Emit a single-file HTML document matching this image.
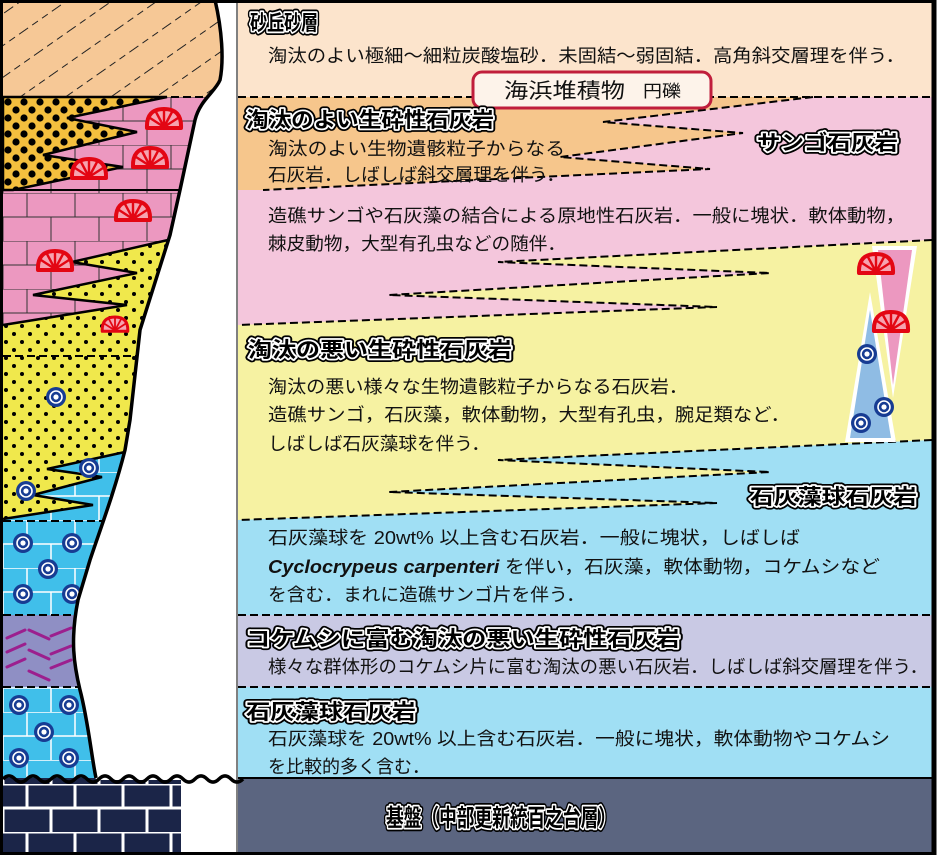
<!DOCTYPE html>
<html><head><meta charset="utf-8"><style>
html,body{margin:0;padding:0;background:#fff;}
svg{display:block;}
.b{font-family:"Liberation Sans","Noto Sans CJK JP",sans-serif;font-size:18px;fill:#111;}
.h{font-family:"Liberation Sans","Noto Sans CJK JP",sans-serif;font-size:21px;font-weight:bold;}
</style></head><body>
<svg width="937" height="855" viewBox="0 0 937 855" xmlns="http://www.w3.org/2000/svg">
<defs>
<pattern id="dotO" width="16" height="16" patternUnits="userSpaceOnUse" x="4" y="2">
 <rect width="16" height="16" fill="#f4bf3e"/>
 <circle cx="4" cy="4" r="3.6" fill="#000"/><circle cx="12" cy="12" r="3.6" fill="#000"/>
</pattern>
<pattern id="dotY" width="16" height="16" patternUnits="userSpaceOnUse" x="2" y="2">
 <rect width="16" height="16" fill="#f0e84c"/>
 <circle cx="4" cy="4" r="2" fill="#000"/><circle cx="12" cy="12" r="2" fill="#000"/>
</pattern>
<pattern id="brickP" width="48" height="48" patternUnits="userSpaceOnUse" x="3" y="97">
 <rect width="48" height="48" fill="#ec98c0"/>
 <path d="M0,0H48M0,24H48M24,0V24M0,24V48M48,24V48" stroke="#333" stroke-width="1" fill="none"/>
</pattern>
<pattern id="brickB" width="48" height="48" patternUnits="userSpaceOnUse" x="3" y="520">
 <rect width="48" height="48" fill="#40bfea"/>
 <path d="M0,0H48M0,24H48M24,0V24M0,24V48M48,24V48" stroke="#fff" stroke-width="1.5" fill="none"/>
</pattern>
<pattern id="brickN" width="48" height="48" patternUnits="userSpaceOnUse" x="3" y="784">
 <rect width="48" height="48" fill="#1b2548"/>
 <path d="M0,0H48M0,24H48M24,0V24M0,24V48M48,24V48" stroke="#fff" stroke-width="3" fill="none"/>
</pattern>
<pattern id="sandP" width="40" height="26" patternUnits="userSpaceOnUse" patternTransform="rotate(-35)">
 <rect width="40" height="26" fill="#f6c896"/>
 <line x1="0" y1="13" x2="40" y2="13" stroke="#222" stroke-width="1" stroke-dasharray="7 5"/>
</pattern>
<g id="coral">
 <path d="M-17,7 Q-18,-12 0,-12 Q18,-12 17,7 Z" fill="#f6a3b0" stroke="#e30613" stroke-width="4" stroke-linejoin="round"/>
 <path d="M0,6 L0,-11 M0,6 L-8,-9 M0,6 L8,-9 M0,6 L-14,-3 M0,6 L14,-3" stroke="#e30613" stroke-width="2.4"/>
</g>
<g id="ooid">
 <circle r="10" fill="#173c93"/><circle r="6" fill="none" stroke="#fff" stroke-width="1.6"/><circle r="2.6" fill="#fff"/>
</g>
</defs>

<rect x="238" y="0" width="696" height="97" fill="#fce4cc"/>
<rect x="238" y="97" width="696" height="430" fill="#f4c6dc"/>
<polygon points="238,97 813,97 603,122 743,133 560,157 710,169 263,190 238,190" fill="#f6c68c"/>
<polygon points="932,240 498,262 770,273 389,295 717,307 238,325 238,520 717,503 389,492 770,472 498,460 932,440" fill="#f6f2a2"/>
<rect x="238" y="520" width="696" height="95" fill="#a0dff4"/>
<polygon points="932,440 498,460 770,472 389,492 717,503 238,520 932,520" fill="#a0dff4"/>
<rect x="238" y="615" width="696" height="72" fill="#c9c9e4"/>
<rect x="238" y="687" width="696" height="91" fill="#a0dff4"/>
<rect x="238" y="778" width="696" height="77" fill="#5b6580"/>
<line x1="238" y1="778" x2="934" y2="778" stroke="#000" stroke-width="2"/>

<g fill="none" stroke="#000" stroke-width="2" stroke-dasharray="8 4">
 <line x1="238" y1="97" x2="934" y2="97"/>
 <polyline points="813,97 603,122 743,133 560,157 710,169 263,190"/>
 <polyline points="932,240 498,262 770,273 389,295 717,307 238,325"/>
 <polyline points="932,440 498,460 770,472 389,492 717,503 238,520"/>
 <line x1="238" y1="615" x2="934" y2="615"/>
 <line x1="238" y1="687" x2="934" y2="687"/>
</g>

<polygon points="872,246 917,246 893,398" fill="#fff"/>
<polygon points="878,250 912,250 893,385" fill="#ec98c0"/>
<polygon points="870,292 845,442 896,442" fill="#fff"/>
<polygon points="870,310 850,438 891,438" fill="#8fbce4"/>
<use href="#coral" x="876" y="266"/>
<use href="#coral" x="891" y="324"/>
<use href="#ooid" x="867" y="354"/>
<use href="#ooid" x="884" y="407"/>
<use href="#ooid" x="861" y="423"/>

<rect x="473" y="72" width="238" height="36" rx="9" fill="#fdf3ea" stroke="#c01e3c" stroke-width="3"/>
<text x="504" y="98" class="b" style="font-size:21px" textLength="121" lengthAdjust="spacingAndGlyphs">海浜堆積物</text>
<text x="643" y="97" class="b" style="font-size:17px" textLength="38" lengthAdjust="spacingAndGlyphs">円礫</text>

<rect x="3" y="0" width="235" height="97" fill="url(#sandP)"/>
<rect x="3" y="97" width="235" height="423" fill="url(#brickP)"/>
<polygon points="3,97 167,97 67,118 137,132 43,155 123,167 13,190 3,190" fill="url(#dotO)" stroke="#000" stroke-width="2.5"/>
<polygon points="238,238 168,240 72,262 137,273 33,295 127,305 3,325 3,520 238,520" fill="url(#dotY)"/>
<polyline points="168,240 72,262 137,273 33,295 127,305 3,325" fill="none" stroke="#000" stroke-width="2.5"/>
<line x1="3" y1="190" x2="238" y2="190" stroke="#000" stroke-width="2"/>
<polygon points="238,450 125,452 47,469 102,477 33,495 93,505 3,519 3,615 238,615" fill="url(#brickB)"/>
<polyline points="125,452 47,469 102,477 33,495 93,505 3,519" fill="none" stroke="#000" stroke-width="2.5"/>
<rect x="3" y="615" width="235" height="72" fill="#8f8fc4"/>
<g stroke="#9c1f8e" stroke-width="3" stroke-linecap="round">
 <line x1="7" y1="638" x2="25" y2="630"/><line x1="29" y1="630" x2="49" y2="639"/><line x1="51" y1="636" x2="71" y2="628"/>
 <line x1="7" y1="652" x2="25" y2="644"/><line x1="29" y1="650" x2="49" y2="659"/><line x1="51" y1="654" x2="71" y2="646"/>
 <line x1="7" y1="667" x2="25" y2="659"/><line x1="29" y1="671" x2="49" y2="680"/><line x1="51" y1="668" x2="71" y2="660"/>
</g>
<rect x="3" y="687" width="235" height="91" fill="url(#brickB)"/>
<rect x="3" y="778" width="178" height="74" fill="url(#brickN)"/>
<rect x="181" y="778" width="57" height="74" fill="#fff"/>
<g fill="none" stroke="#000" stroke-width="2" stroke-dasharray="8 4">
 <line x1="3" y1="97" x2="238" y2="97"/>
 <line x1="3" y1="356" x2="238" y2="356"/>
 <line x1="3" y1="521" x2="238" y2="521"/>
 <line x1="3" y1="615" x2="238" y2="615"/>
 <line x1="3" y1="687" x2="238" y2="687"/>
</g>
<use href="#coral" x="164" y="121"/>
<use href="#coral" x="150" y="160"/>
<use href="#coral" x="89" y="171"/>
<use href="#coral" x="133" y="213"/>
<use href="#coral" x="55" y="263"/>
<use href="#coral" x="115" y="326" transform="translate(115 326) scale(0.75) translate(-115 -326)"/>
<use href="#ooid" x="56" y="397"/>
<use href="#ooid" x="89" y="468"/>
<use href="#ooid" x="26" y="491"/>
<use href="#ooid" x="23" y="543"/>
<use href="#ooid" x="72" y="543"/>
<use href="#ooid" x="48" y="569"/>
<use href="#ooid" x="23" y="594"/>
<use href="#ooid" x="72" y="594"/>
<use href="#ooid" x="19" y="705"/>
<use href="#ooid" x="69" y="705"/>
<use href="#ooid" x="44" y="732"/>
<use href="#ooid" x="19" y="758"/>
<use href="#ooid" x="69" y="758"/>

<path d="M215,0 C222,30 224,60 220,80 C215,92 200,100 195,120 L180,190 L170,235 L140,330 L130,420 L125,450 C115,490 100,530 90,560 L78,600 C70,640 74,665 80,690 C88,720 92,760 96,780 L238,780 L238,0 Z" fill="#fff"/>
<path d="M215,0 C222,30 224,60 220,80 C215,92 200,100 195,120 L180,190 L170,235 L140,330 L130,420 L125,450 C115,490 100,530 90,560 L78,600 C70,640 74,665 80,690 C88,720 92,760 96,778" fill="none" stroke="#000" stroke-width="3.5"/>
<path d="M3,779 q6,-6 12,0 t12,0 t12,0 t12,0 t12,0 t12,0 t12,0 t12,0 t12,0 t12,0 t12,0 t12,0 t12,0 t12,0 t12,0 t12,0 t12,0 t12,0 t12,0 t12,0" fill="none" stroke="#000" stroke-width="3.5"/>
<line x1="237" y1="0" x2="237" y2="855" stroke="#000" stroke-width="1"/>

<g class="b">
<text x="268" y="62" textLength="637" lengthAdjust="spacingAndGlyphs">淘汰のよい極細〜細粒炭酸塩砂．未固結〜弱固結．高角斜交層理を伴う．</text>
<text x="268" y="155" textLength="297" lengthAdjust="spacingAndGlyphs">淘汰のよい生物遺骸粒子からなる</text>
<text x="268" y="181" textLength="297" lengthAdjust="spacingAndGlyphs">石灰岩．しばしば斜交層理を伴う．</text>
<text x="268" y="222" textLength="637" lengthAdjust="spacingAndGlyphs">造礁サンゴや石灰藻の結合による原地性石灰岩．一般に塊状．軟体動物，</text>
<text x="268" y="250" textLength="298" lengthAdjust="spacingAndGlyphs">棘皮動物，大型有孔虫などの随伴．</text>
<text x="268" y="393" textLength="420" lengthAdjust="spacingAndGlyphs">淘汰の悪い様々な生物遺骸粒子からなる石灰岩．</text>
<text x="268" y="421" textLength="522" lengthAdjust="spacingAndGlyphs">造礁サンゴ，石灰藻，軟体動物，大型有孔虫，腕足類など．</text>
<text x="268" y="450" textLength="222" lengthAdjust="spacingAndGlyphs">しばしば石灰藻球を伴う．</text>
<text x="268" y="544" textLength="532" lengthAdjust="spacingAndGlyphs">石灰藻球を 20wt% 以上含む石灰岩．一般に塊状，しばしば</text>
<text x="268" y="573" textLength="612" lengthAdjust="spacingAndGlyphs"><tspan font-style="italic" font-weight="bold">Cyclocrypeus carpenteri</tspan> を伴い，石灰藻，軟体動物，コケムシなど</text>
<text x="268" y="601" textLength="317" lengthAdjust="spacingAndGlyphs">を含む．まれに造礁サンゴ片を伴う．</text>
<text x="268" y="673" textLength="660" lengthAdjust="spacingAndGlyphs">様々な群体形のコケムシ片に富む淘汰の悪い石灰岩．しばしば斜交層理を伴う．</text>
<text x="268" y="745" textLength="622" lengthAdjust="spacingAndGlyphs">石灰藻球を 20wt% 以上含む石灰岩．一般に塊状，軟体動物やコケムシ</text>
<text x="268" y="773" textLength="162" lengthAdjust="spacingAndGlyphs">を比較的多く含む．</text>
</g>

<g class="h" stroke-linejoin="round">
 <g fill="none" stroke="#000" stroke-width="7">
  <text x="250" y="30" textLength="68" lengthAdjust="spacingAndGlyphs">砂丘砂層</text>
  <text x="246" y="127" textLength="248" lengthAdjust="spacingAndGlyphs">淘汰のよい生砕性石灰岩</text>
  <text x="757" y="150" textLength="141" lengthAdjust="spacingAndGlyphs">サンゴ石灰岩</text>
  <text x="248" y="357" textLength="264" lengthAdjust="spacingAndGlyphs">淘汰の悪い生砕性石灰岩</text>
  <text x="750" y="504" textLength="167" lengthAdjust="spacingAndGlyphs">石灰藻球石灰岩</text>
  <text x="246" y="646" textLength="434" lengthAdjust="spacingAndGlyphs">コケムシに富む淘汰の悪い生砕性石灰岩</text>
  <text x="246" y="719" textLength="170" lengthAdjust="spacingAndGlyphs">石灰藻球石灰岩</text>
  <text x="386" y="826" textLength="230" lengthAdjust="spacingAndGlyphs" style="font-size:24px">基盤（中部更新統百之台層）</text>
 </g>
 <g fill="#000" stroke="#fff" stroke-width="3.5" paint-order="stroke">
  <text x="250" y="30" textLength="68" lengthAdjust="spacingAndGlyphs">砂丘砂層</text>
  <text x="246" y="127" textLength="248" lengthAdjust="spacingAndGlyphs">淘汰のよい生砕性石灰岩</text>
  <text x="757" y="150" textLength="141" lengthAdjust="spacingAndGlyphs">サンゴ石灰岩</text>
  <text x="248" y="357" textLength="264" lengthAdjust="spacingAndGlyphs">淘汰の悪い生砕性石灰岩</text>
  <text x="750" y="504" textLength="167" lengthAdjust="spacingAndGlyphs">石灰藻球石灰岩</text>
  <text x="246" y="646" textLength="434" lengthAdjust="spacingAndGlyphs">コケムシに富む淘汰の悪い生砕性石灰岩</text>
  <text x="246" y="719" textLength="170" lengthAdjust="spacingAndGlyphs">石灰藻球石灰岩</text>
  <text x="386" y="826" textLength="230" lengthAdjust="spacingAndGlyphs" style="font-size:24px">基盤（中部更新統百之台層）</text>
 </g>
</g>

<rect x="1.5" y="1.5" width="932" height="852" fill="none" stroke="#000" stroke-width="3"/>
<line x1="934" y1="0" x2="934" y2="855" stroke="#000" stroke-width="5"/>
</svg>
</body></html>
